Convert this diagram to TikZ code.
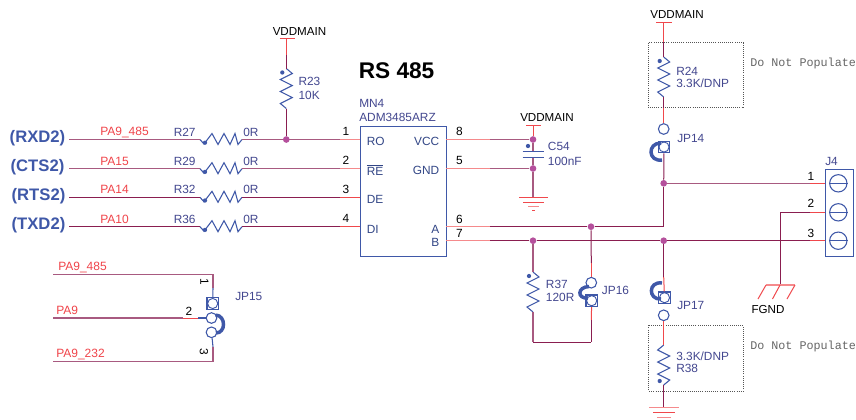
\documentclass[tikz,border=0pt]{standalone}
\usepackage{fontspec}
\setmainfont{Liberation Sans}
\setmonofont{Liberation Mono}
\definecolor{wiredk}{HTML}{8A1E50}
\definecolor{wiremid}{HTML}{A85A80}
\definecolor{pinred}{HTML}{F0484C}
\definecolor{pinpale}{HTML}{F58A8C}
\definecolor{comp}{HTML}{3F58A8}
\definecolor{lbl}{HTML}{43478F}
\definecolor{dotc}{HTML}{B5509C}
\definecolor{netred}{HTML}{F0444A}
\definecolor{frame}{HTML}{555555}
\definecolor{note}{HTML}{666666}
\tikzset{
  wire/.style={draw=wiredk,line width=.75pt},
  wirem/.style={draw=wiremid,line width=.9pt},
  pin/.style={draw=pinred,line width=.75pt},
  pinp/.style={draw=pinpale,line width=.9pt},
  lead/.style={draw=comp,line width=.8pt},
  compline/.style={draw=comp,line width=.8pt},
  jdot/.style={circle,fill=dotc,inner sep=0pt,minimum size=5pt},
  netlabel/.style={font=\fontsize{9pt}{10pt}\selectfont,text=netred,anchor=west,inner sep=0pt},
  partlabel/.style={font=\fontsize{8.9pt}{10pt}\selectfont,text=lbl,anchor=west,inner sep=0pt},
  pinname/.style={font=\fontsize{8.9pt}{10pt}\selectfont,text=comp!80!black,inner sep=0pt},
  pinnum/.style={font=\fontsize{8.9pt}{10pt}\selectfont,text=black,inner sep=0pt},
  blk/.style={font=\fontsize{8.7pt}{10pt}\selectfont,text=black,inner sep=0pt},
  sig/.style={font=\bfseries\fontsize{12.5pt}{14pt}\selectfont,text=comp,inner sep=0pt},
  notetext/.style={font=\ttfamily\fontsize{8.8pt}{10pt}\selectfont,text=note,anchor=west,inner sep=0pt},
  dnp/.style={draw=frame,line width=.6pt,densely dotted},
  jumparc/.style={draw=comp,line width=2.6pt},
  jcirc/.style={circle,draw=comp,line width=.8pt,fill=white,inner sep=0pt,minimum size=8pt},
  jbox/.style={rectangle,draw=comp,line width=.9pt,inner sep=0pt,minimum size=8.6pt},
  jin/.style={circle,draw=comp,line width=.7pt,inner sep=0pt,minimum size=7.6pt},
  jterm/.style={circle,draw=comp,line width=.8pt,inner sep=0pt,minimum size=13pt},
  hres/.pic={
    \draw[compline] (-21,0) -- (-17,4.5) -- (-9,-6) -- (-3,5) -- (3,-6) -- (9,5) -- (14,-6) -- (17,5) -- (21,0);
    \fill[comp] (-16,3.2) circle (1.6pt);
    \coordinate (-l) at (-21,0); \coordinate (-r) at (21,0);},
  vres/.pic={
    \draw[compline] (0,-20) -- (6,-15) -- (-6,-9) -- (6,-3) -- (-6,3) -- (6,9) -- (-6,15) -- (0,20);
    \fill[comp] (-4,-16) circle (1.6pt);
    \coordinate (-t) at (0,-20); \coordinate (-b) at (0,20);}
}
\begin{document}
\begin{tikzpicture}[x=0.75pt,y=-0.75pt]
\useasboundingbox (0,0) rectangle (856,419);
\fill[white] (0,0) rectangle (856,419);

% ---- chip
\node[draw=comp,line width=.9pt,fill=white,minimum width=65pt,minimum height=98pt,inner sep=0pt,anchor=north west] (chip) at (359.5,125.5) {};
\node[font=\bfseries\fontsize{17pt}{19pt}\selectfont,anchor=west,inner sep=0pt] (title) at (358.5,71) {RS 485};
\node[partlabel] (mn) at (359,103) {MN4};
\node[partlabel] (adm) at (359,117.5) {ADM3485ARZ};
\node[pinname,anchor=west] (ro) at (366.5,141) {RO};
\node[pinname,anchor=west] (re) at (366.5,170) {\vbox{\hrule height .5pt \kern 1pt\hbox{RE}}};
\node[pinname,anchor=west] (de) at (366.5,199) {DE};
\node[pinname,anchor=west] (di) at (366.5,229) {DI};
\node[pinname,anchor=east] (vcc) at (439.5,141) {VCC};
\node[pinname,anchor=east] (gnd) at (439.5,170) {GND};
\node[pinname,anchor=east] (pa) at (439.5,229) {A};
\node[pinname,anchor=east] (pb) at (439.5,242) {B};
\foreach \n/\y in {1/131.5,2/160.5,3/189,4/218.5}
  \node[pinnum] (n\n) at (346,\y) {\n};
\foreach \n/\y in {8/131,5/160.5,6/219,7/233}
  \node[pinnum] (n\n) at (459.5,\y) {\n};

% ---- chip pin anchors
\foreach \i/\y in {1/139.5,2/168.7,3/197.3,4/226.7} {
  \coordinate (pl\i) at (359.5,\y);
  \coordinate (ps\i) at (340,\y);
}
\coordinate (pr8) at (446,139.5); \coordinate (mr8) at (490,139.5);
\coordinate (pr5) at (446,168.5); \coordinate (mr5) at (490,168.5);
\coordinate (pr6) at (446,226.7); \coordinate (mr6) at (490,226.7);
\coordinate (pr7) at (446,240.7); \coordinate (mr7) at (490,240.7);

% ---- left series resistors
\foreach \k/\y/\rn/\net/\sg/\sx in {27/139.5/R27/PA9\_485/(RXD2)/37.5,29/168.7/R29/PA15/(CTS2)/37.5,32/197.3/R32/PA14/(RTS2)/38.5,36/226.7/R36/PA10/(TXD2)/38.5} {
  \pic (r\k) at (221,\y) {hres};
  \node[sig] (s\k) at (\sx,\y-1.5) {\sg};
  \coordinate (w\k) at (69,\y);
  \node[netlabel] (net\k) at (100,\y-7.5) {\net};
  \node[partlabel] (rl\k) at (173.5,\y-7.5) {\rn};
  \node[partlabel] (rv\k) at (243,\y-7.5) {0R};
}
\draw[wirem] (w27) -- (r27-l);
\draw[wirem] (w29) -- (r29-l);
\draw[wire] (w32) -- (r32-l);
\draw[wire] (w36) -- (r36-l);
\draw[wirem] (r27-r) -- (ps1); \draw[pinp] (ps1) -- (pl1);
\draw[wirem] (r29-r) -- (ps2); \draw[pinp] (ps2) -- (pl2);
\draw[wire] (r32-r) -- (ps3); \draw[pin] (ps3) -- (pl3);
\draw[wire] (r36-r) -- (ps4); \draw[pin] (ps4) -- (pl4);

% ---- R23
\node[blk] (vdda) at (299.5,31.7) {VDDMAIN};
\coordinate (vbar1l) at (279.5,38.3); \coordinate (vbar1r) at (295,38.3);
\coordinate (vbar1) at (286.3,38.3);
\draw[pin] (vbar1l) -- (vbar1r);
\pic (r23) at (286.3,88.5) {vres};
\node[partlabel] (r23a) at (298.3,81.7) {R23};
\node[partlabel] (r23b) at (298.3,95) {10K};
\node[jdot] (d23) at (286.3,139.5) {};
\coordinate (m23) at (286.3,55);
\draw[pin] (vbar1) -- (m23);
\draw[wire] (m23) -- (r23-t);
\draw[wire] (r23-b) -- (d23);

% ---- C54
\node[blk] (vddb) at (547,117.7) {VDDMAIN};
\coordinate (cbar) at (533,125.3);
\coordinate (cbarl) at (526,125.3); \coordinate (cbarr) at (541,125.3);
\draw[pin] (cbarl) -- (cbarr);
\node[jdot] (d8) at (533,139.5) {};
\node[jdot] (d5) at (533,168.5) {};
\coordinate (cp1) at (533,151.3); \coordinate (cp2) at (533,157.3);
\coordinate (cp1l) at (522.7,151.3); \coordinate (cp1r) at (544,151.3);
\coordinate (cp2l) at (522.7,157.3); \coordinate (cp2r) at (544,157.3);
\coordinate (g1) at (533,197.3);
\draw[pin] (cbar) -- (d8);
\draw[wirem] (d8) -- (cp1);
\draw[wirem] (cp2) -- (d5);
\draw[wirem] (d5) -- (g1);
\draw[compline] (cp1l) -- (cp1r);
\draw[compline] (cp2l) -- (cp2r);
\fill[comp] (528,146) circle (1.6pt);
\node[partlabel] (c54a) at (547.7,146.7) {C54};
\node[partlabel] (c54b) at (547.7,161) {100nF};
\draw[pin] (519,197.3) -- (548,197.3);
\draw[pin] (523,202.3) -- (544,202.3);
\draw[pinp] (528,206.7) -- (539,206.7);
\draw[pin] (532,210) -- (535,210);

\draw[pinp] (pr8) -- (mr8); \draw[wirem] (mr8) -- (d8);
\draw[pinp] (pr5) -- (mr5); \draw[wirem] (mr5) -- (d5);

% ---- bus lines A, B
\node[jdot] (dA) at (591,226.7) {};
\node[jdot] (dB1) at (533,240.7) {};
\node[jdot] (dB2) at (663.7,240.7) {};
\coordinate (Aend) at (663.7,226.7);
\coordinate (term1) at (825,183.3); \coordinate (term2) at (780,212.3);
\coordinate (term2r) at (825,212.3); \coordinate (term3) at (825,240.7);
\coordinate (ts3) at (810,240.7);  \coordinate (ts1) at (810,183.3); \coordinate (ts2) at (810,212.3);
\draw[pinp] (pr6) -- (mr6); \draw[wire] (mr6) -- (dA); \draw[wire] (dA) -- (Aend);
\draw[pinp] (pr7) -- (mr7); \draw[wire] (mr7) -- (dB1); \draw[wire] (dB1) -- (dB2); \draw[wire] (dB2) -- (ts3); \draw[pin] (ts3) -- (term3);

% ---- R24 / JP14
\node[blk] (vddc) at (677,14.5) {VDDMAIN};
\coordinate (ctop) at (663.7,22.5);
\draw[pin] (656,22.5) -- (672,22.5);
\draw[dnp] (648.7,42.7) rectangle (743.3,107.7);
\pic (r24) at (663.7,77) {vres};
\node[partlabel] (r24a) at (676,71) {R24};
\node[partlabel] (r24b) at (676,83.5) {3.3K/DNP};
\node[notetext] (dn1) at (750,63.3) {Do Not Populate};
\node[jcirc] (jp14a) at (663.7,129) {};
\node[jbox] (jp14b) at (664,147) {};
\node[jin] (jp14i) at (664,147) {};
\node[partlabel] (jp14) at (677,138.5) {JP14};
\coordinate (m14) at (663.7,42);
\draw[pin] (ctop) -- (m14);
\draw[wire] (m14) -- (r24-t);
\coordinate (m14b) at (663.7,108);
\draw[wire] (r24-b) -- (m14b);
\draw[pin] (m14b) -- (jp14a);
\draw[jumparc] (661,143) .. controls (647,143) and (648,162) .. (662,160);
\node[jdot] (d1) at (663.7,183.3) {};
\draw[wire] (jp14b) -- (d1);
\draw[wire] (d1) -- (Aend);
\draw[wirem] (d1) -- (ts1); \draw[pin] (ts1) -- (term1);

% ---- J4
\node[draw=comp,line width=.9pt,minimum width=20.7pt,minimum height=65pt,inner sep=0pt,anchor=north west] (j4) at (825,169) {};
\node[partlabel] (j4l) at (825,161.5) {J4};
\foreach \n/\y/\ty in {1/183.3/176,2/212.3/203.5,3/240.7/233.3} {
  \node[pinnum] (tn\n) at (811,\ty) {\n};
  \node[jterm] (t\n) at (838.3,\y) {};
  \draw[compline] (t\n.west) -- (t\n.east);
}
\coordinate (fg) at (780,285);
\draw[wire] (term2) -- (fg);
\draw[wire] (term2) -- (ts2);
\draw[pin] (ts2) -- (term2r);

% ---- FGND
\draw[pinp] (766,285) -- (795,285);
\draw[pin] (766,285) -- (758,299);
\draw[pin] (fg) -- (772.5,299);
\draw[pin] (795,285) -- (787,299);
\node[blk] (fgnd) at (768,309) {FGND};

% ---- R37 / JP16
\pic (r37) at (533,292) {vres};
\node[partlabel] (r37a) at (545.7,284) {R37};
\node[partlabel] (r37b) at (545.7,297) {120R};
\coordinate (cb) at (591.3,342.3); \coordinate (cc) at (533,342.3);
\draw[wirem] (dB1) -- (r37-t);
\draw[wirem] (r37-b) -- (cc);
\draw[wire] (cc) -- (cb);
\node[jcirc] (jp16a) at (591.3,282.7) {};
\node[jbox] (jp16b) at (591.7,300.7) {};
\node[jin] (jp16i) at (591.7,300.7) {};
\node[partlabel] (jp16) at (601.7,290) {JP16};
\coordinate (m16) at (591.3,263); \coordinate (m16b) at (591.3,320);
\draw[wire] (dA) -- (m16);
\draw[pin] (m16) -- (jp16a);
\draw[pin] (jp16b) -- (m16b);
\draw[wire] (m16b) -- (cb);
\draw[jumparc] (589,286.5) .. controls (577,287) and (577,299) .. (588,298);

% ---- JP17 / R38
\node[jbox] (jp17b) at (664.5,297.7) {};
\node[jin] (jp17i) at (664.5,297.7) {};
\node[jcirc] (jp17a) at (663.7,315.3) {};
\node[partlabel] (jp17) at (677,305.7) {JP17};
\coordinate (m17) at (663.7,277);
\draw[wire] (dB2) -- (m17);
\draw[pin] (m17) -- (jp17b);
\draw[jumparc] (662,283) .. controls (648,281) and (648,300) .. (661,299);
\draw[dnp] (648.7,325.3) rectangle (743.3,391);
\pic[yscale=-1] (r38) at (663.7,365) {vres};
\node[partlabel] (r38a) at (676,356) {3.3K/DNP};
\node[partlabel] (r38b) at (676,368.3) {R38};
\node[notetext] (dn2) at (750,346.3) {Do Not Populate};
\coordinate (g2) at (663.7,407.7);
\draw[pin] (jp17a) -- (r38-b);
\draw[wire] (r38-t) -- (g2);
\draw[pinp] (649,407.7) -- (679,407.7);
\draw[pin] (653,412.3) -- (675,412.3);
\draw[pinp] (657,417.3) -- (671,417.3);

% ---- JP15
\node[netlabel] (pa9a) at (58,267.3) {PA9\_485};
\node[netlabel] (pa9b) at (56,310) {PA9};
\node[netlabel] (pa9c) at (56,354) {PA9\_232};
\node[jbox] (jp15b) at (212.7,303.5) {};
\node[jin] (jp15i) at (212.7,303.5) {};
\node[jcirc] (jp15c) at (211.5,318) {};
\node[jcirc] (jp15d) at (211.5,332.3) {};
\node[partlabel] (jp15) at (235,296.7) {JP15};
\node[pinnum,rotate=-90] (p151) at (204.5,282) {1};
\node[pinnum] (p152) at (189,311) {2};
\node[pinnum,rotate=-90] (p153) at (204,351.7) {3};
\coordinate (a1) at (53,274.7); \coordinate (a2) at (213,274.7); \coordinate (a3) at (213,288);
\coordinate (b1) at (53,318); \coordinate (b2) at (183,318); \coordinate (b3) at (198,318);
\coordinate (c1) at (53,361.7); \coordinate (c2) at (213,361.7); \coordinate (c3) at (213,347);
\draw[wirem] (a1) -- (a2) -- (a3);
\draw[lead] (a3) -- (jp15b);
\draw[wirem] (b1) -- (b2);
\draw[pin] (b2) -- (b3);
\draw[lead] (b3) -- (jp15c);
\draw[lead] (jp15d) -- (c3);
\draw[wirem] (c3) -- (c2) -- (c1);
\draw[jumparc] (216,315) .. controls (226,316) and (226,333) .. (216,333);
\end{tikzpicture}
\end{document}
